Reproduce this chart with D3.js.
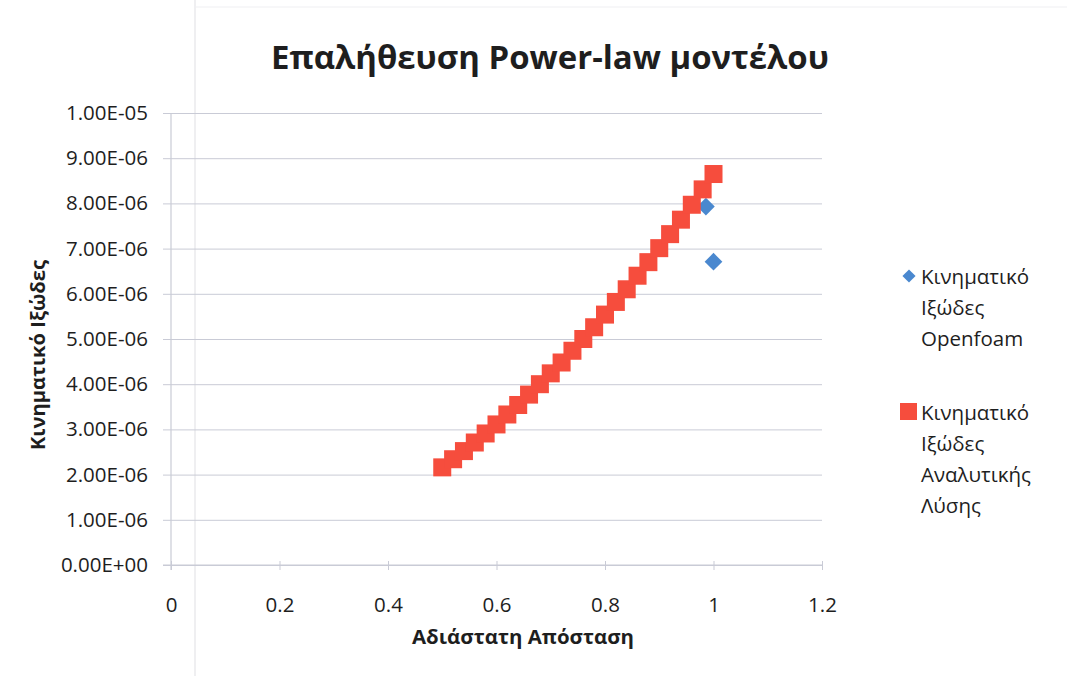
<!DOCTYPE html>
<html>
<head>
<meta charset="utf-8">
<script src="https://cdn.jsdelivr.net/npm/d3@7"></script>
<style>
  html, body { margin: 0; padding: 0; background: #ffffff; }
  svg { display: block; }
  svg text { font-family: "Open Sans", "Noto Sans", sans-serif; }
</style>
</head>
<body>
<svg id="chart" width="1067" height="676"></svg>
<script>
// Dimensionless distance and kinematic viscosity of the analytical solution
const analyticX = [0.50, 0.52, 0.54, 0.56, 0.58, 0.60, 0.62, 0.64, 0.66, 0.68,
                   0.70, 0.72, 0.74, 0.76, 0.78, 0.80, 0.82, 0.84, 0.86, 0.88,
                   0.90, 0.92, 0.94, 0.96, 0.98, 1.00];
const analyticNu = [2.16e-6, 2.34e-6, 2.52e-6, 2.71e-6, 2.91e-6, 3.11e-6, 3.33e-6, 3.54e-6, 3.77e-6, 4.00e-6,
                    4.24e-6, 4.48e-6, 4.74e-6, 5.00e-6, 5.26e-6, 5.54e-6, 5.82e-6, 6.10e-6, 6.40e-6, 6.70e-6,
                    7.01e-6, 7.32e-6, 7.64e-6, 7.97e-6, 8.31e-6, 8.65e-6];

// OpenFOAM results
const foamX = [0.986, 1.00];
const foamNu = [7.93e-6, 6.71e-6];

const xTicks = [0, 0.2, 0.4, 0.6, 0.8, 1, 1.2];
const yTicks = [0, 1e-6, 2e-6, 3e-6, 4e-6, 5e-6, 6e-6, 7e-6, 8e-6, 9e-6, 1e-5];

const titleText = "Επαλήθευση Power-law μοντέλου";
const xTitle = "Αδιάστατη Απόσταση";
const yTitle = "Κινηματικό Ιξώδες";
const legendFoam = ["Κινηματικό", "Ιξώδες", "Openfoam"];
const legendAnalytic = ["Κινηματικό", "Ιξώδες", "Αναλυτικής", "Λύσης"];

const blue = "#4a88cf";
const red = "#f64d3d";
const gridColor = "#c9cbd6";
const textColor = "#1e1e1e";
const fontFamily = "'Open Sans', 'Noto Sans', sans-serif";

const svg = d3.select("#chart");

// faint page edges
svg.append("line").attr("x1", 195).attr("x2", 195).attr("y1", 0).attr("y2", 676)
  .attr("stroke", "#e4e4e8").attr("stroke-width", 1.2);
svg.append("line").attr("x1", 195).attr("x2", 1067).attr("y1", 7).attr("y2", 7)
  .attr("stroke", "#efeff2").attr("stroke-width", 1);

const plot = { left: 171, right: 822, top: 113, bottom: 565 };

const x = d3.scaleLinear().domain([0, 1.2]).range([plot.left, plot.right]);
const y = d3.scaleLinear().domain([0, 1e-5]).range([plot.bottom, plot.top]);

// Excel-style scientific notation: 1.00E-05
const sci = d => {
  const [m, e] = d3.format(".2e")(d).split("e");
  const sign = e[0] === "-" ? "-" : "+";
  const digits = e.replace(/[-+]/, "").padStart(2, "0");
  return `${m}E${sign}${digits}`;
};

// horizontal gridlines + y axis
const yAxis = d3.axisLeft(y)
  .tickValues(yTicks)
  .tickSize(-(plot.right - plot.left))
  .tickPadding(22)
  .tickFormat(sci);

const gy = svg.append("g").attr("transform", `translate(${plot.left},0)`).call(yAxis)
  .attr("font-family", fontFamily).attr("font-size", 20.5);
gy.select(".domain").remove();
gy.selectAll(".tick line").attr("stroke", gridColor).attr("x1", -8);
gy.selectAll(".tick text")
  .attr("fill", textColor)
  .attr("x", -23);

// y axis line
svg.append("line")
  .attr("x1", plot.left).attr("x2", plot.left)
  .attr("y1", plot.top).attr("y2", plot.bottom + 5)
  .attr("stroke", gridColor).attr("stroke-width", 1.2);

// x axis
const xAxis = d3.axisBottom(x)
  .tickValues(xTicks)
  .tickSize(6)
  .tickPadding(26)
  .tickFormat(d => String(d));
const gx = svg.append("g").attr("transform", `translate(0,${plot.bottom})`).call(xAxis)
  .attr("font-family", fontFamily).attr("font-size", 20.5);
gx.select(".domain").attr("stroke", gridColor).attr("stroke-width", 1.2)
  .attr("d", `M${plot.left - 8},0H${plot.right}`);
gx.selectAll(".tick line").attr("stroke", gridColor).attr("y1", -4).attr("y2", 5);
gx.selectAll(".tick text")
  .attr("fill", textColor);

// OpenFOAM: diamonds (beneath the squares where they overlap)
const diamond = d3.symbol().type(d3.symbolDiamond2).size(200);
svg.append("g").selectAll("path")
  .data(foamX.map((d, i) => [d, foamNu[i]]))
  .join("path")
  .attr("transform", d => `translate(${x(d[0])},${y(d[1])})`)
  .attr("d", diamond)
  .attr("fill", blue);

// analytical solution: squares
const sq = 18;
svg.append("g").selectAll("rect")
  .data(analyticX.map((d, i) => [d, analyticNu[i]]))
  .join("rect")
  .attr("x", d => x(d[0]) - sq / 2)
  .attr("y", d => y(d[1]) - sq / 2)
  .attr("width", sq).attr("height", sq)
  .attr("fill", red);

// title
svg.append("text")
  .attr("x", 550).attr("y", 69)
  .attr("text-anchor", "middle")
  .attr("fill", textColor)
  .style("font-size", "33px").style("font-weight", "bold")
  .attr("textLength", 558).attr("lengthAdjust", "spacingAndGlyphs")
  .text(titleText);

// axis titles
svg.append("text")
  .attr("x", 523).attr("y", 644)
  .attr("text-anchor", "middle")
  .attr("fill", textColor)
  .style("font-size", "20px").style("font-weight", "bold")
  .attr("textLength", 222).attr("lengthAdjust", "spacingAndGlyphs")
  .text(xTitle);

svg.append("text")
  .attr("transform", "translate(45,355) rotate(-90)")
  .attr("text-anchor", "middle")
  .attr("fill", textColor)
  .style("font-size", "20px").style("font-weight", "bold")
  .attr("textLength", 190).attr("lengthAdjust", "spacingAndGlyphs")
  .text(yTitle);

// legend
const leg = svg.append("g");
leg.append("path")
  .attr("transform", "translate(909,276)")
  .attr("d", d3.symbol().type(d3.symbolDiamond2).size(110)())
  .attr("fill", blue);
legendFoam.forEach((t, i) => {
  leg.append("text").attr("x", 921).attr("y", 284 + i * 31)
    .attr("fill", textColor).style("font-size", "20.5px").text(t);
});
leg.append("rect")
  .attr("x", 900).attr("y", 403).attr("width", 17).attr("height", 17)
  .attr("fill", red);
legendAnalytic.forEach((t, i) => {
  leg.append("text").attr("x", 921).attr("y", 420 + i * 31)
    .attr("fill", textColor).style("font-size", "20.5px").text(t);
});
</script>
</body>
</html>
